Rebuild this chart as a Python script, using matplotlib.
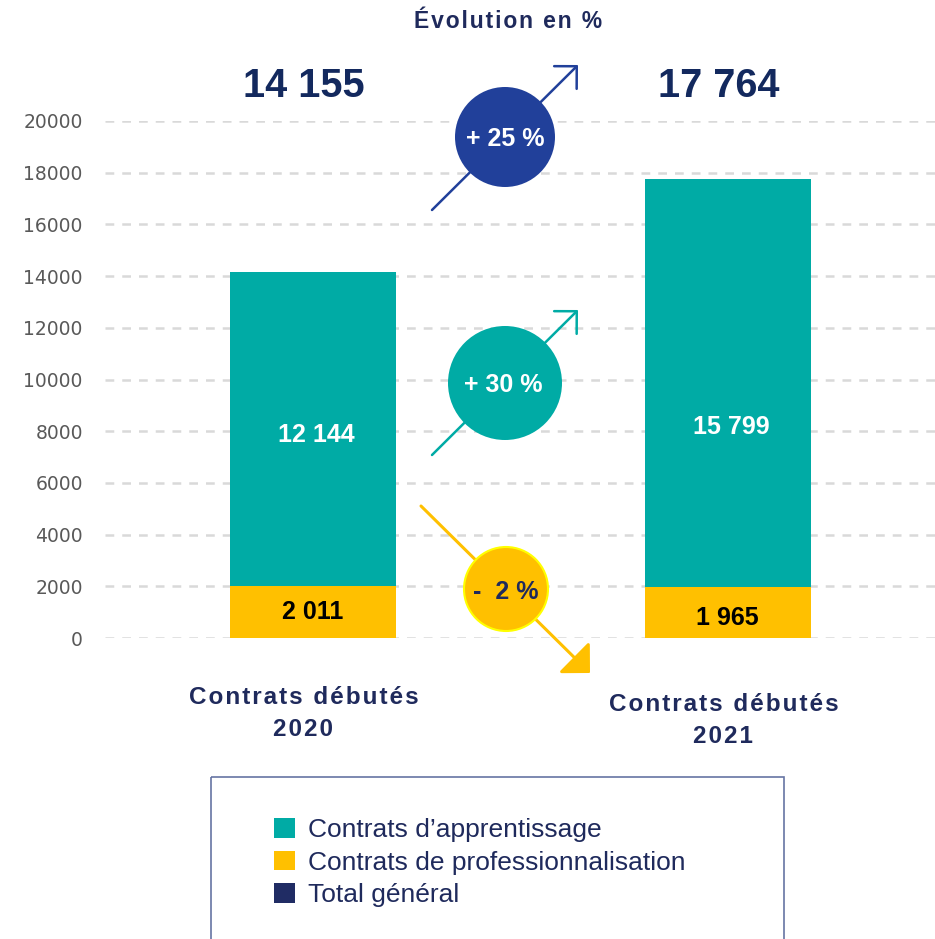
import matplotlib.pyplot as plt
import numpy as np
from matplotlib.patches import Circle, FancyArrowPatch, Rectangle, Patch

plt.rcParams['font.family'] = ['Liberation Sans', 'DejaVu Sans']

# données
categories = ['Contrats débutés\n2020', 'Contrats débutés\n2021']
apprentissage = [12144, 15799]
professionnalisation = [2011, 1965]
total = [14155, 17764]
evol_labels = ['+ 25 %', '+ 30 %', '-  2 %']
series_names = ['Contrats d\u2019apprentissage', 'Contrats de professionnalisation', 'Total général']

TEAL = '#00ABA5'
GOLD = '#FFC000'
NAVY = '#1F2A5C'
BLUE = '#21409A'

def fmt(v):
    return f"{v:,}".replace(',', ' ')

def spaced(s, sep='\u200a'):
    # imite l'espacement des lettres
    return '\n'.join(sep.join(line) for line in s.split('\n'))

fig = plt.figure(figsize=(9.35, 9.39), dpi=100)
ax = fig.add_axes([105/935, 301/939, 830/935, 517/939])

x = np.arange(len(categories))
b_pro = ax.bar(x, professionnalisation, width=0.4, color=GOLD, zorder=3)
b_app = ax.bar(x, apprentissage, width=0.4, bottom=professionnalisation, color=TEAL, zorder=3)

ax.set_xlim(-0.5, 1.5)
ax.set_ylim(0, 20000)
ax.set_yticks(np.arange(0, 20001, 2000))
ax.set_xticks([])
ax.tick_params(axis='y', length=0, pad=16, labelsize=13.5, labelcolor='#595959')
for lab in ax.get_yticklabels():
    lab.set_family('DejaVu Sans')
ax.grid(axis='y', color='#D9D9D9', linewidth=1.8, linestyle=(0, (3.5, 3.2)), zorder=0)
for s in ax.spines.values():
    s.set_visible(False)

# étiquettes des barres
app_y = [7850, 8160]
pro_y = [1000, 780]
for i in range(len(categories)):
    ax.text(x[i] + 0.008, app_y[i], fmt(apprentissage[i]), ha='center', va='center',
            color='white', fontsize=18, fontweight='bold', zorder=4)
    ax.text(x[i], pro_y[i], fmt(professionnalisation[i]), ha='center', va='center',
            color='#000000', fontsize=18, fontweight='bold', zorder=4)
    ax.text(x[i] - 0.022, 21350, fmt(total[i]), ha='center', va='center',
            color='#13295E', fontsize=28.5, fontweight='bold', clip_on=False)

cat_y = [-2920, -3190]
cat_dx = [-0.022, -0.01]
for i, c in enumerate(categories):
    ax.text(x[i] + cat_dx[i], cat_y[i], spaced(c), ha='center', va='center', color=NAVY,
            fontsize=17.5, fontweight='bold', linespacing=1.55, clip_on=False)

# calque en pixels pour les flèches et bulles
ov = fig.add_axes([0, 0, 1, 1], zorder=5)
ov.set_xlim(0, 935)
ov.set_ylim(939, 0)
ov.axis('off')

ov.text(508, 21, spaced('Évolution en %'), ha='center', va='center', color=NAVY,
        fontsize=16.5, fontweight='bold')

arrow_kw = dict(mutation_scale=11.5, shrinkA=0, shrinkB=0, zorder=1)
ov.add_patch(FancyArrowPatch((432, 210), (578, 65),
                             arrowstyle='->,head_length=1,head_width=1',
                             color=BLUE, lw=1.8, **arrow_kw))
ov.add_patch(FancyArrowPatch((432, 455), (578, 310),
                             arrowstyle='->,head_length=1,head_width=1',
                             color=TEAL, lw=1.8, **arrow_kw))
ov.add_patch(FancyArrowPatch((421, 506), (590, 673),
                             arrowstyle='-|>,head_length=1.05,head_width=1.05',
                             facecolor=GOLD, edgecolor=GOLD, lw=2.2,
                             mutation_scale=13, shrinkA=0, shrinkB=0, zorder=1))

ov.add_patch(Circle((505, 137), 50, facecolor=BLUE, edgecolor='none', zorder=2))
ov.add_patch(Circle((505, 383), 57, facecolor=TEAL, edgecolor='none', zorder=2))
ov.add_patch(Circle((506, 589), 42, facecolor=GOLD, edgecolor='#FFFF00', lw=1.5, zorder=2))
ov.text(505, 139, evol_labels[0], ha='center', va='center', color='white',
        fontsize=18, fontweight='bold', zorder=3)
ov.text(503, 385, evol_labels[1], ha='center', va='center', color='white',
        fontsize=18, fontweight='bold', zorder=3)
ov.text(506, 592, evol_labels[2], ha='center', va='center', color=NAVY,
        fontsize=18, fontweight='bold', zorder=3)

# cadre de légende
ov.add_patch(Rectangle((211, 777), 573, 200, facecolor='none', edgecolor='#6674A3',
                       lw=1.2, zorder=1))

handles = [b_app, b_pro, Patch(facecolor='#202C64')]
leg = fig.legend(handles, series_names, loc='upper left',
                 bbox_to_anchor=(261/935, 1 - 805/939), frameon=False,
                 fontsize=19, handlelength=0.8, handleheight=0.75,
                 handletextpad=0.48, labelspacing=0.32, borderpad=0)
for t in leg.get_texts():
    t.set_color(NAVY)

fig.savefig('out.png', dpi=100)
